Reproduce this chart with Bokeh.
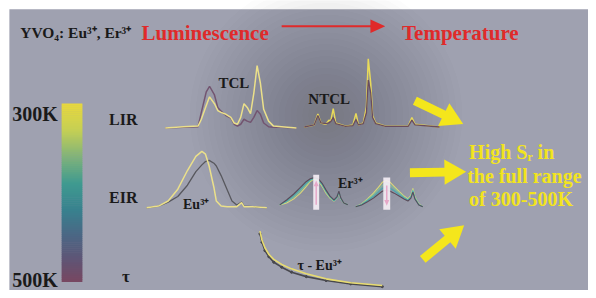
import numpy as np
from bokeh.plotting import figure
from bokeh.models import Range1d
from bokeh.embed import file_html
from bokeh.resources import INLINE
from bokeh.core.properties import value

# ---------------- data ----------------
# LIR / TCL (Er3+ green bands): wavelength (nm), normalised intensity
TCL_WL = [500, 511, 520, 522, 525, 527, 530, 532, 534, 537, 540, 542, 544,
          546, 548, 550, 552, 554, 556, 558, 560, 563, 566, 571, 580]
TCL_300K = [0, .02, .03, .14, .36, .50, .39, .28, .25, .22, .17, .08, .06,
            .17, .39, .33, .23, .56, 1.0, .72, .30, .11, .03, .02, 0]
TCL_500K = [0, .01, .02, .25, .58, .67, .53, .33, .27, .20, .16, .06, .03,
            .06, .14, .11, .09, .17, .28, .22, .08, .02, .01, .01, 0]

# LIR / NTCL (Er3+ + Eu3+ bands)
NTCL_WL = [500, 516, 522, 527, 535, 540, 543, 547, 551, 567, 579, 584, 588,
           596, 601, 604, 608, 611, 616, 632, 669, 675, 680, 720]
NTCL_300K = [0, .03, .19, .06, .04, .10, .09, .27, .06, .01, .03, .20, .03,
             .06, .29, 1.0, .64, .17, .06, .01, .01, .14, .04, 0]
NTCL_500K = [0, .03, .17, .06, .05, .06, .08, .14, .05, .01, .02, .11, .03,
             .05, .21, .69, .50, .14, .05, .01, .01, .10, .03, 0]

# EIR / Eu3+ excitation band
EIR_WL = [260, 270, 278, 286, 294, 301, 306, 309, 312, 316, 318, 322, 327,
          331, 335, 339, 341, 348, 360]
EIR_300K = [0, .03, .12, .33, .66, .91, 1.0, .95, .74, .36, .12, .03, .02,
            .02, .02, .09, .02, .02, 0]
EIR_500K = [0, .03, .10, .20, .40, .64, .76, .82, .84, .79, .74, .57, .32,
            .12, .05, .10, .03, .02, 0]

# EIR / Er3+ bands, four temperatures (300, 367, 433, 500 K)
ER_TEMPS = [300, 367, 433, 500]
ER1_WL = [630, 637, 644, 651, 657, 661, 665, 669, 673, 677, 681, 685, 688,
          690, 692, 695, 699]
ER1 = [[0, .07, .21, .43, .68, .86, .96, .89, .68, .43, .25, .14, .25, .43, .21, .07, 0],
       [0, .11, .28, .51, .74, .89, .97, .91, .72, .47, .27, .15, .26, .46, .22, .07, 0],
       [0, .14, .33, .58, .80, .92, .99, .93, .75, .50, .30, .16, .27, .48, .23, .07, 0],
       [0, .18, .39, .64, .86, .96, 1.0, .96, .79, .54, .32, .18, .29, .50, .25, .07, 0]]
ER2_WL = [630, 636, 642, 648, 653, 657, 661, 665, 669, 674, 679, 683, 686,
          688, 690, 694, 698]
ER2 = [[0, .11, .30, .52, .74, .93, 1.0, .93, .78, .59, .41, .30, .44, .70, .37, .11, 0],
       [0, .10, .27, .45, .65, .81, .88, .82, .70, .54, .38, .27, .40, .65, .35, .10, 0],
       [0, .08, .23, .39, .56, .70, .75, .70, .61, .47, .34, .25, .37, .60, .32, .08, 0],
       [0, .07, .19, .33, .48, .59, .63, .59, .52, .41, .30, .22, .33, .56, .30, .07, 0]]

# lifetime decay of Eu3+ (time in ms, normalised intensity)
TAU_T = [0, .2, .5, .9, 1.4, 2.2, 3.2, 4.7, 6.7, 9.2, 12.4]
TAU_300K = [1.0, .84, .70, .58, .49, .40, .32, .23, .14, .07, .02]
TAU_500K = [.95, .80, .65, .54, .44, .35, .26, .18, .11, .05, 0]

# colour bar
CBAR_T = [300, 330, 360, 390, 420, 450, 475, 500]
CBAR_C = ["#e8d83c", "#c4cf55", "#7fb27a", "#3f9a90", "#38818e", "#4c6684",
          "#5e5576", "#774862"]
TEMP_LABELS = ["300K", "500K"]

# ---------------- figure ----------------
# the picture (596 x 298 units, y downwards) is mapped onto the whole frame
W, H = 588, 290
IW, IH = 596, 298
BG = "#9fa1b0"
p = figure(width=W, height=H, output_backend="svg", toolbar_location=None,
           x_range=Range1d(0, IW), y_range=Range1d(IH, 0),
           min_border=0, background_fill_color="white", border_fill_color="white",
           outline_line_color=None)
p.axis.visible = False
p.grid.visible = False

xr, yr = {}, {}


def inset(name, d0, d1, px0, px1, i0, i1, py0, py1):
    """data d0..d1 -> picture x px0..px1 ; i0..i1 -> picture y py0..py1"""
    kx = (d1 - d0) / (px1 - px0)
    xs = d0 - px0 * kx
    xr[name] = Range1d(xs, xs + IW * kx)
    ky = (i1 - i0) / (py0 - py1)
    ys = i0 - (IH - py0) * ky
    yr[name] = Range1d(ys, ys + IH * ky)


inset("tcl", 500, 580, 167, 300, 0, 1, 131, 67)
inset("ntcl", 500, 720, 308, 445, 0, 1, 130, 60)
inset("eir", 260, 360, 148, 270, 0, 1, 213, 155)
inset("er1", 630, 699, 283, 352, 0, 1, 210, 182)
inset("er2", 630, 698, 360, 428, 0, 1, 212, 185)
inset("tau", 0, 12.4, 263, 387, 0, 1, 294, 237)
inset("cbar", 0, 1, 0, 1, 500, 300, 288, 107)
p.extra_x_ranges = xr
p.extra_y_ranges = yr

# grey panel
p.quad(left=[9], right=[IW], top=[9], bottom=[IH], fill_color=BG, line_color=None)
# lighter left part of the panel
for k in range(12):
    p.quad(left=[9], right=[40 + 20 * k], top=[9], bottom=[IH], fill_color="white",
           fill_alpha=0.009, line_color=None)
# soft dark halo in the middle
for r in range(6, 140, 6):
    p.circle(x=[330], y=[118], radius=r, fill_color="#34343f", fill_alpha=0.016,
             line_color=None)

SERIF = value("Liberation Serif")


def label(x, y, s, size, color="#1a1a1a", align="left"):
    p.text(x=[x], y=[y], text=[s], text_font=SERIF, text_font_style="bold",
           text_font_size=f"{size}px", text_color=color, text_align=align,
           text_baseline="alphabetic")


# spectra
YEL = "#ebe08a"
PUR = "#735570"
p.line(TCL_WL, TCL_500K, x_range_name="tcl", y_range_name="tcl", line_color=PUR, line_width=1.5)
p.line(TCL_WL, TCL_300K, x_range_name="tcl", y_range_name="tcl", line_color=YEL, line_width=1.5)
p.line(NTCL_WL, NTCL_300K, x_range_name="ntcl", y_range_name="ntcl", line_color="#e8da5a", line_width=1.5)
p.line(NTCL_WL, NTCL_500K, x_range_name="ntcl", y_range_name="ntcl", line_color="#6a4c5e", line_width=1.3)
p.line(EIR_WL, EIR_500K, x_range_name="eir", y_range_name="eir", line_color="#58585e", line_width=1.3)
p.line(EIR_WL, EIR_300K, x_range_name="eir", y_range_name="eir", line_color=YEL, line_width=1.5)

ER_COL = ["#dcd878", "#7cc09a", "#48a8b0", "#5a4a58"]
for curve, c in zip(ER1, ER_COL):
    p.line(ER1_WL, curve, x_range_name="er1", y_range_name="er1", line_color=c, line_width=1.1)
for curve, c in zip(ER2, ER_COL):
    p.line(ER2_WL, curve, x_range_name="er2", y_range_name="er2", line_color=c, line_width=1.1)

# white bars with pink arrows in the Er3+ spectra
p.quad(left=[317, 388], right=[323, 395], top=[179, 182], bottom=[215, 215],
       fill_color="#f6f0f6", fill_alpha=0.9, line_color=None)
p.segment(x0=[320, 391.5], y0=[210, 190], x1=[320, 391.5], y1=[188, 208],
          line_color="#e6a8c8", line_width=1.5)
p.patches(xs=[[317.5, 320, 322.5], [389, 391.5, 394]],
          ys=[[191, 185, 191], [205, 211, 205]], fill_color="#e6a8c8", line_color=None)

# decay curves
p.scatter(TAU_T, TAU_500K, x_range_name="tau", y_range_name="tau", size=2.2,
          color="#3e3e44", alpha=0.9)
p.line(TAU_T, TAU_500K, x_range_name="tau", y_range_name="tau", line_color="#48484e", line_width=1.6)
p.line(TAU_T, TAU_300K, x_range_name="tau", y_range_name="tau", line_color="#e8dc70", line_width=1.6)

# colour bar
ts = np.linspace(300, 500, 91)
rgb = np.array([[int(c[i:i + 2], 16) for i in (1, 3, 5)] for c in CBAR_C])
cols = ["#%02x%02x%02x" % tuple(int(round(np.interp(t, CBAR_T, rgb[:, k]))) for k in range(3)) for t in ts]
dt = ts[1] - ts[0]
p.quad(left=[62] * len(ts), right=[83] * len(ts), top=list(ts - dt / 2 - 0.3),
       bottom=list(ts + dt / 2 + 0.3), fill_color=cols, line_color=None,
       y_range_name="cbar")


def arrow(x0, y0, x1, y1, shaft=9, head_w=26, head_l=22, color="#f4e61c"):
    d = np.array([x1 - x0, y1 - y0], float)
    L = np.hypot(*d)
    u = d / L
    n = np.array([-u[1], u[0]])
    a = np.array([x0, y0], float)
    b = a + u * (L - head_l)
    pts = [a + n * shaft / 2, b + n * shaft / 2, b + n * head_w / 2, np.array([x1, y1], float),
           b - n * head_w / 2, b - n * shaft / 2, a - n * shaft / 2]
    p.patch([q[0] for q in pts], [q[1] for q in pts], fill_color=color, line_color=None)


arrow(420, 103, 469, 127)
arrow(415, 177, 472, 176)
arrow(428, 266, 470, 231)

RED = "#e02a2a"
p.segment(x0=[285], y0=[26.5], x1=[377], y1=[26.5], line_color=RED, line_width=2)
p.patch([375, 390, 375], [19.5, 26.5, 33.5], fill_color=RED, line_color=None)

# texts
label(20, 33, "YVO₄: Eu³⁺, Er³⁺", 15.5)
label(143, 33, "Luminescence", 21, RED)
label(407, 33, "Temperature", 21, RED)
label(12, 117, TEMP_LABELS[0], 20)
label(12, 287, TEMP_LABELS[1], 20)
label(110, 122, "LIR", 16)
label(110, 202, "EIR", 16)
label(127, 284, "τ", 17, align="center")
label(221, 85, "TCL", 15)
label(312, 101, "NTCL", 15)
label(185, 210, "Eu³⁺", 14)
label(342, 188, "Er³⁺", 14)
label(301, 272, "τ - Eu³⁺", 14)
YT = "#f2e41e"
label(475, 156, "High Sᵣ in", 20, YT)
label(473, 180, "the full range", 20, YT)
label(475, 204, "of 300-500K", 20, YT)

open("out.html", "w").write(file_html(p, INLINE))
